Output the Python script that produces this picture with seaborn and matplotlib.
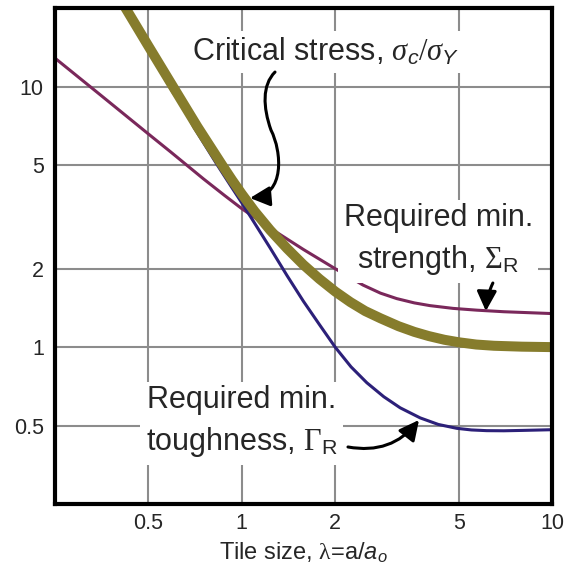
import matplotlib
matplotlib.use("Agg")
import matplotlib.pyplot as plt
from matplotlib.patches import FancyArrowPatch
from matplotlib.path import Path
import seaborn as sns
import pandas as pd

# ---- data ----
lam_crit = [0.42, 0.50, 0.60, 0.72, 0.864, 0.93, 1.0, 1.1, 1.235, 1.4, 1.58, 1.78, 2.0,
            2.24, 2.5, 2.8, 3.2, 3.6, 4.0, 4.5, 5.0, 5.7, 6.5, 8.0, 10.0]
crit = [20.2, 14.3, 10.0, 7.0, 5.0, 4.38, 3.87, 3.32, 2.81, 2.39, 2.07, 1.826, 1.635,
        1.488, 1.375, 1.29, 1.203, 1.144, 1.103, 1.067, 1.044, 1.023, 1.012, 1.004, 1.0]

lam_tough = [0.42, 0.50, 0.60, 0.65, 0.70, 0.834, 0.92, 1.0, 1.1, 1.235, 1.4, 1.58, 1.78, 2.0,
             2.25, 2.53, 2.87, 3.24, 3.76, 4.3, 4.93, 5.5, 6.16, 7.0, 8.0, 10.0]
tough = [19.6, 13.8, 9.5, 8.35, 7.0, 5.0, 4.17, 3.58, 2.99, 2.40, 1.88, 1.50, 1.22, 1.0,
         0.84, 0.73, 0.645, 0.585, 0.535, 0.505, 0.488, 0.481, 0.478, 0.4775, 0.479, 0.482]

lam_strength = [0.25, 0.35, 0.507, 0.589, 0.753, 0.88, 1.0, 1.235, 1.58, 2.0, 2.46, 2.8, 3.16,
                3.6, 4.04, 4.8, 5.73, 7.0, 10.0]
strength = [12.85, 9.29, 6.49, 5.62, 4.42, 3.82, 3.40, 2.86, 2.37, 2.0, 1.73, 1.611, 1.535,
            1.478, 1.443, 1.408, 1.386, 1.367, 1.345]

xticks = [0.5, 1, 2, 5, 10]
xtick_labels = ["0.5", "1", "2", "5", "10"]
yticks = [0.5, 1, 2, 5, 10]
ytick_labels = ["0.5", "1", "2", "5", "10"]

# ---- style ----
sns.set_style("white")
plt.rcParams["font.family"] = ["Liberation Sans", "DejaVu Sans"]
plt.rcParams["mathtext.fontset"] = "custom"
plt.rcParams["mathtext.rm"] = "Liberation Serif"
plt.rcParams["mathtext.it"] = "Liberation Serif:italic"
plt.rcParams["mathtext.sf"] = "Liberation Sans"
plt.rcParams["mathtext.bfit"] = "Liberation Sans:italic"

fig = plt.figure(figsize=(5.65, 5.77), dpi=100)
ax = fig.add_axes([0.0973, 0.1265, 0.8797, 0.8595])
ax.set_xscale("log")
ax.set_yscale("log")

df_s = pd.DataFrame({"lam": lam_strength, "val": strength})
df_t = pd.DataFrame({"lam": lam_tough, "val": tough})
df_c = pd.DataFrame({"lam": lam_crit, "val": crit})

sns.lineplot(data=df_s, x="lam", y="val", ax=ax, color="#7a285b", linewidth=2.2, zorder=3)
sns.lineplot(data=df_t, x="lam", y="val", ax=ax, color="#2c2079", linewidth=2.2, zorder=3)
sns.lineplot(data=df_c, x="lam", y="val", ax=ax, color="#867c2c", linewidth=7.2, zorder=4,
             solid_capstyle="butt")

ax.set_xlim(0.25, 10)
ax.set_ylim(0.25, 20)
ax.set_xticks(xticks, xtick_labels)
ax.set_yticks(yticks, ytick_labels)
ax.minorticks_off()
ax.tick_params(axis="both", which="major", direction="in", length=6, width=2.5,
               labelsize=15.5, color="black")
ax.tick_params(axis="x", pad=6.5)
ax.tick_params(axis="y", pad=8)
ax.grid(True, which="major", color="#8c8c8c", linewidth=1.5)
ax.set_axisbelow(True)
for sp in ax.spines.values():
    sp.set_linewidth(3)
    sp.set_color("black")
    sp.set_zorder(6)

ax.set_xlabel(r"Tile size, $\mathrm{\lambda}$=a/$\mathbfit{a}_{\mathbfit{o}}$", fontsize=17, labelpad=5)
ax.set_ylabel("")

box = dict(facecolor="white", edgecolor="none", pad=4)
ax.text(0.545, 0.911, r"Critical stress, $\sigma_{\mathbfit{c}}/\sigma_{\mathbfit{Y}}$",
        transform=ax.transAxes, ha="center", va="center", fontsize=22, bbox=box, zorder=5)
ax.text(0.771, 0.532, "Required min.\n" + r"strength, $\Sigma_{\mathsf{R}}$",
        transform=ax.transAxes, ha="center", va="center", multialignment="center",
        fontsize=22, linespacing=1.4, bbox=box, zorder=5)
ax.text(0.376, 0.165, "Required min.\n" + r"toughness, $\Gamma_{\mathsf{R}}$",
        transform=ax.transAxes, ha="center", va="center", multialignment="center",
        fontsize=22, linespacing=1.4, bbox=box, zorder=5)

astyle = "-|>,head_length=0.6,head_width=0.3"

# S-shaped arrow to the critical stress curve
verts = [(0.4427, 0.871), (0.4165, 0.8447), (0.4185, 0.800), (0.4346, 0.754),
         (0.4567, 0.710), (0.4628, 0.6230), (0.3924, 0.617)]
codes = [Path.MOVETO, Path.CURVE4, Path.CURVE4, Path.CURVE4,
         Path.CURVE4, Path.CURVE4, Path.CURVE4]
arr = FancyArrowPatch(path=Path(verts, codes), arrowstyle=astyle, mutation_scale=20,
                      lw=2.2, color="black", transform=ax.transAxes, zorder=7)
ax.add_patch(arr)

ax.annotate("", xy=(0.867, 0.389), xytext=(0.881, 0.4456), xycoords="axes fraction",
            textcoords="axes fraction",
            arrowprops=dict(arrowstyle=astyle, mutation_scale=20, lw=2.2, color="black",
                            shrinkA=0, shrinkB=0, connectionstyle="arc3,rad=0.1"),
            zorder=7)
ax.annotate("", xy=(0.7324, 0.1694), xytext=(0.5895, 0.115), xycoords="axes fraction",
            textcoords="axes fraction",
            arrowprops=dict(arrowstyle=astyle, mutation_scale=20, lw=2.2, color="black",
                            shrinkA=0, shrinkB=0, connectionstyle="arc3,rad=0.3"),
            zorder=7)

fig.savefig("out.png", dpi=100)
